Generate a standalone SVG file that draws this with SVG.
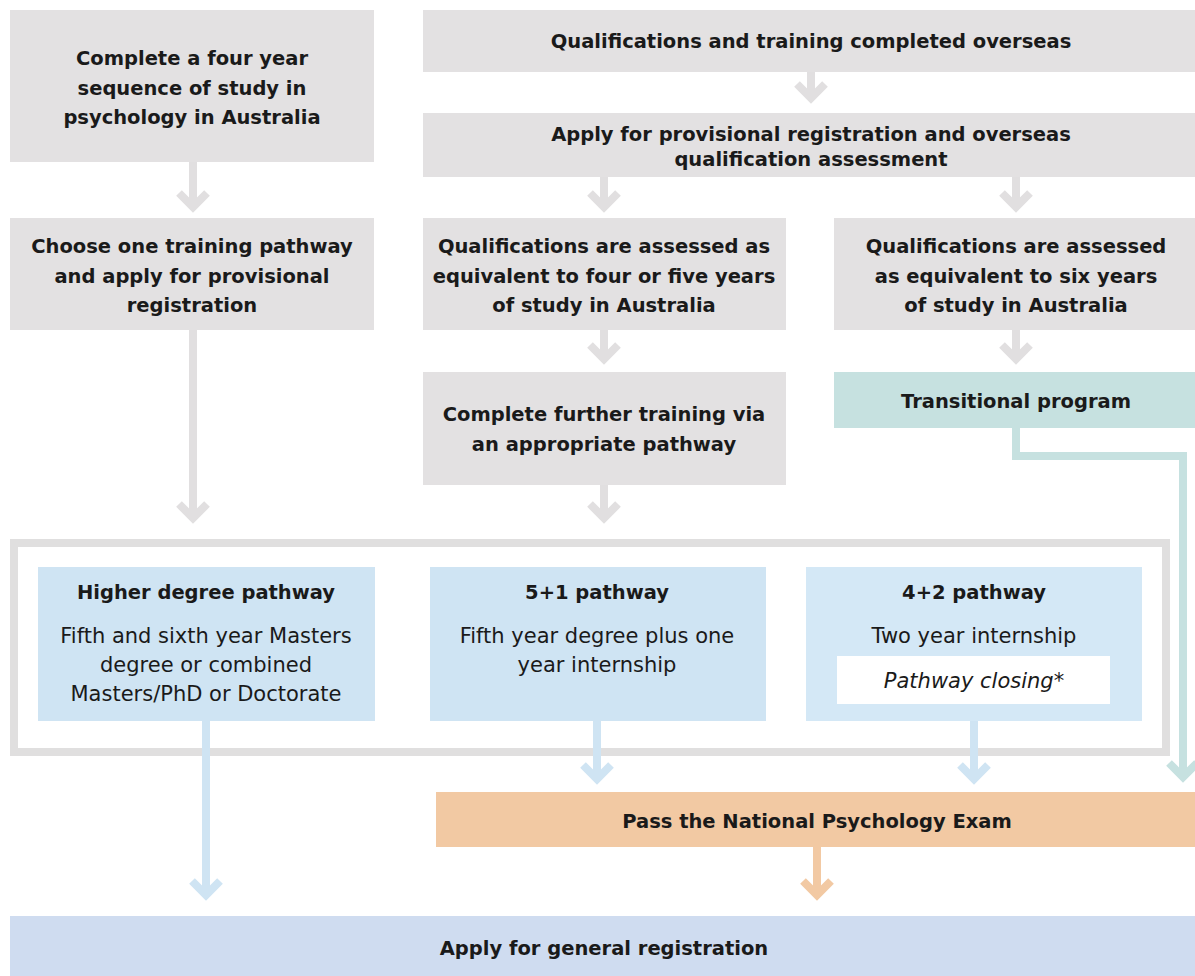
<svg xmlns="http://www.w3.org/2000/svg" width="1195" height="976" viewBox="0 0 1195 976">
  <style>
    .grey { fill: #e3e1e2; }
    .pathbox { fill: #cfe4f3; }
    .pathbox2 { fill: #d4e8f6; }
    .teal { fill: #c6e1e0; }
    .orange { fill: #f2c9a3; }
    .final { fill: #cfdcf0; }
    .frame { fill: none; stroke: #e0dfdf; stroke-width: 8; }
    .b { font-family: "DejaVu Sans", sans-serif; font-weight: bold; font-size: 19.5px; fill: #1a1a1a; text-anchor: middle; }
    .r { font-family: "DejaVu Sans", sans-serif; font-size: 21px; fill: #1a1a1a; text-anchor: middle; }
    .i { font-family: "DejaVu Sans", sans-serif; font-style: italic; font-size: 21px; fill: #1a1a1a; text-anchor: middle; }
    .arrow { fill: none; stroke-width: 8; stroke-linejoin: miter; stroke-miterlimit: 4; }
    .a-grey { stroke: #e1dfe0; }
    .a-blue { stroke: #cfe4f3; }
    .a-teal { stroke: #c6e1e0; }
    .a-orange { stroke: #f2c9a3; }
  </style>

  <rect width="1195" height="976" fill="#ffffff"/>

  <!-- Australian study route -->
  <g id="node-four-year">
    <rect class="grey" x="10" y="10" width="364" height="152"/>
    <text class="b" x="192" y="65">Complete a four year</text>
    <text class="b" x="192" y="95">sequence of study in</text>
    <text class="b" x="192" y="124">psychology in Australia</text>
  </g>
  <g id="node-choose-pathway">
    <rect class="grey" x="10" y="218" width="364" height="112"/>
    <text class="b" x="192" y="253">Choose one training pathway</text>
    <text class="b" x="192" y="283">and apply for provisional</text>
    <text class="b" x="192" y="312">registration</text>
  </g>

  <!-- Overseas route -->
  <g id="node-overseas">
    <rect class="grey" x="423" y="10" width="772" height="62"/>
    <text class="b" x="811" y="48">Qualifications and training completed overseas</text>
  </g>
  <g id="node-apply-provisional">
    <rect class="grey" x="423" y="113" width="772" height="64"/>
    <text class="b" x="811" y="141">Apply for provisional registration and overseas</text>
    <text class="b" x="811" y="166">qualification assessment</text>
  </g>
  <g id="node-four-five-years">
    <rect class="grey" x="423" y="218" width="363" height="112"/>
    <text class="b" x="604" y="253">Qualifications are assessed as</text>
    <text class="b" x="604" y="283">equivalent to four or five years</text>
    <text class="b" x="604" y="312">of study in Australia</text>
  </g>
  <g id="node-six-years">
    <rect class="grey" x="834" y="218" width="361" height="112"/>
    <text class="b" x="1016" y="253">Qualifications are assessed</text>
    <text class="b" x="1016" y="283">as equivalent to six years</text>
    <text class="b" x="1016" y="312">of study in Australia</text>
  </g>
  <g id="node-further-training">
    <rect class="grey" x="423" y="372" width="363" height="113"/>
    <text class="b" x="604" y="421">Complete further training via</text>
    <text class="b" x="604" y="451">an appropriate pathway</text>
  </g>
  <g id="node-transitional">
    <rect class="teal" x="834" y="372" width="361" height="56"/>
    <text class="b" x="1016" y="408">Transitional program</text>
  </g>

  <!-- Training pathways -->
  <g id="node-pathways-frame">
    <rect class="frame" x="14" y="543" width="1152" height="209"/>
  </g>
  <g id="node-higher-degree">
    <rect class="pathbox" x="38" y="567" width="337" height="154"/>
    <text class="b" x="206" y="599">Higher degree pathway</text>
    <text class="r" x="206" y="643">Fifth and sixth year Masters</text>
    <text class="r" x="206" y="672">degree or combined</text>
    <text class="r" x="206" y="701">Masters/PhD or Doctorate</text>
  </g>
  <g id="node-five-plus-one">
    <rect class="pathbox" x="430" y="567" width="336" height="154"/>
    <text class="b" x="597" y="599">5+1 pathway</text>
    <text class="r" x="597" y="643">Fifth year degree plus one</text>
    <text class="r" x="597" y="672">year internship</text>
  </g>
  <g id="node-four-plus-two">
    <rect class="pathbox2" x="806" y="567" width="336" height="154"/>
    <text class="b" x="974" y="599">4+2 pathway</text>
    <text class="r" x="974" y="643">Two year internship</text>
    <rect x="837" y="656" width="273" height="48" fill="#ffffff"/>
    <text class="i" x="974" y="688">Pathway closing*</text>
  </g>

  <!-- Final steps -->
  <g id="node-exam">
    <rect class="orange" x="436" y="792" width="759" height="55"/>
    <text class="b" x="817" y="828">Pass the National Psychology Exam</text>
  </g>
  <g id="node-general-registration">
    <rect class="final" x="10" y="916" width="1185" height="60"/>
    <text class="b" x="604" y="955">Apply for general registration</text>
  </g>

  <!-- Connectors: stem plus chevron head -->
  <g id="connectors">
    <path class="arrow a-grey" d="M193 162 V207 M179 193 L193 207 L207 193"/>
    <path class="arrow a-grey" d="M193 330 V518 M179 504 L193 518 L207 504"/>
    <path class="arrow a-grey" d="M811 72 V98 M797 84 L811 98 L825 84"/>
    <path class="arrow a-grey" d="M604 177 V207 M590 193 L604 207 L618 193"/>
    <path class="arrow a-grey" d="M1016 177 V207 M1002 193 L1016 207 L1030 193"/>
    <path class="arrow a-grey" d="M604 330 V359 M590 345 L604 359 L618 345"/>
    <path class="arrow a-grey" d="M1016 330 V359 M1002 345 L1016 359 L1030 345"/>
    <path class="arrow a-grey" d="M604 485 V518 M590 504 L604 518 L618 504"/>
    <path class="arrow a-teal" d="M1016 428 V456 H1183 V777 M1169 763 L1183 777 L1197 763"/>
    <path class="arrow a-blue" d="M206 721 V895 M192 881 L206 895 L220 881"/>
    <path class="arrow a-blue" d="M597 721 V779 M583 765 L597 779 L611 765"/>
    <path class="arrow a-blue" d="M974 721 V779 M960 765 L974 779 L988 765"/>
    <path class="arrow a-orange" d="M817 847 V895 M803 881 L817 895 L831 881"/>
  </g>
</svg>
